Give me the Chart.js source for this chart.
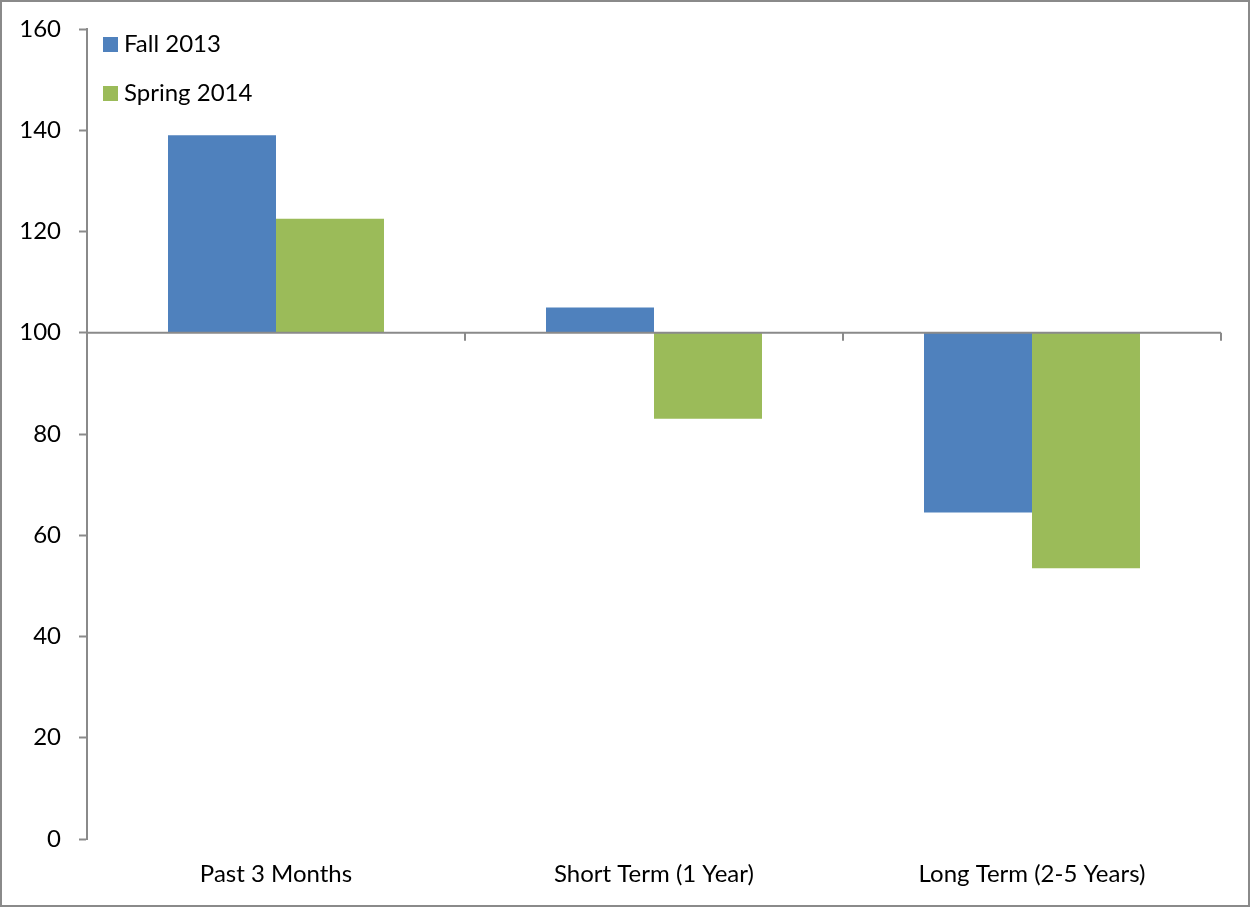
<!DOCTYPE html>
<html>
<head>
<meta charset="utf-8">
<script src="https://cdn.jsdelivr.net/npm/chart.js@4/dist/chart.umd.min.js"></script>
<style>
  html, body { margin: 0; padding: 0; background: #fff; }
  #wrap { position: relative; width: 1250px; height: 907px; }
  canvas { display: block; }
</style>
</head>
<body>
<div id="wrap"><canvas id="c" width="1250" height="907"></canvas></div>
<script>
const categories = ['Past 3 Months', 'Short Term (1 Year)', 'Long Term (2-5 Years)'];
const seriesNames = ['Fall 2013', 'Spring 2014'];
const fall2013 = [139, 105, 64.5];
const spring2014 = [122.5, 83, 53.5];
const baseValue = 100;
const yTicks = [0, 20, 40, 60, 80, 100, 120, 140, 160];

const FONT = 'Lato, "Open Sans", sans-serif';
const FSIZE = 24;
const AXIS = '#8a8a8a';

const frame = {
  id: 'frame',
  beforeDraw(chart) {
    const ctx = chart.ctx;
    ctx.save();
    ctx.fillStyle = '#fff';
    ctx.fillRect(0, 0, chart.width, chart.height);
    ctx.strokeStyle = '#8a8a8a';
    ctx.lineWidth = 2;
    ctx.strokeRect(1, 1, chart.width - 2, chart.height - 2);
    ctx.restore();
  },
  afterDatasetsDraw(chart) {
    const ctx = chart.ctx, x = chart.scales.x, y = chart.scales.y;
    const yb = y.getPixelForValue(baseValue);
    ctx.save();
    ctx.strokeStyle = AXIS;
    ctx.lineWidth = 2;
    ctx.beginPath();
    ctx.moveTo(chart.chartArea.left, yb);
    ctx.lineTo(chart.chartArea.right, yb);
    for (let i = 0; i <= categories.length; i++) {
      const px = x.getPixelForValue(i - 0.5);
      ctx.moveTo(px, yb);
      ctx.lineTo(px, yb + 8);
    }
    ctx.stroke();
    ctx.font = FSIZE + 'px ' + FONT;
    ctx.textBaseline = 'middle';
    ctx.textAlign = 'left';
    chart.data.datasets.forEach((ds, i) => {
      const lx = chart.chartArea.left + 16;
      const ly = chart.chartArea.top + 15 + i * 49;
      ctx.fillStyle = ds.backgroundColor;
      ctx.fillRect(lx, ly - 7, 15, 15);
      ctx.fillStyle = '#000';
      ctx.fillText(ds.label, lx + 21, ly);
    });
    ctx.restore();
  }
};

new Chart(document.getElementById('c'), {
  type: 'bar',
  data: {
    labels: categories,
    datasets: [
      { label: seriesNames[0], data: fall2013.map(v => [baseValue, v]), backgroundColor: '#4F81BD' },
      { label: seriesNames[1], data: spring2014.map(v => [baseValue, v]), backgroundColor: '#9BBB59' }
    ]
  },
  options: {
    responsive: false,
    animation: false,
    devicePixelRatio: 1,
    categoryPercentage: 0.5714,
    barPercentage: 1,
    layout: { padding: { top: 29, right: 29, left: 0, bottom: 0 } },
    plugins: { legend: { display: false }, tooltip: { enabled: false } },
    scales: {
      x: {
        grid: { display: false, drawTicks: false },
        border: { display: false },
        ticks: { color: '#000', font: { family: FONT, size: FSIZE }, padding: 21, maxRotation: 0 },
        afterFit(s) { s.height = 68; s.paddingLeft = 0; s.paddingRight = 0; }
      },
      y: {
        min: 0, max: 160,
        afterBuildTicks(s) { s.ticks = yTicks.map(v => ({ value: v })); },
        grid: { drawOnChartArea: false, drawTicks: true, tickLength: 8, tickColor: AXIS, tickWidth: 2 },
        border: { display: true, color: AXIS, width: 2 },
        ticks: { color: '#000', font: { family: FONT, size: FSIZE }, padding: 18 },
        afterFit(s) { s.width = 87; s.paddingTop = 0; s.paddingBottom = 0; }
      }
    }
  },
  plugins: [frame]
});
</script>
</body>
</html>
